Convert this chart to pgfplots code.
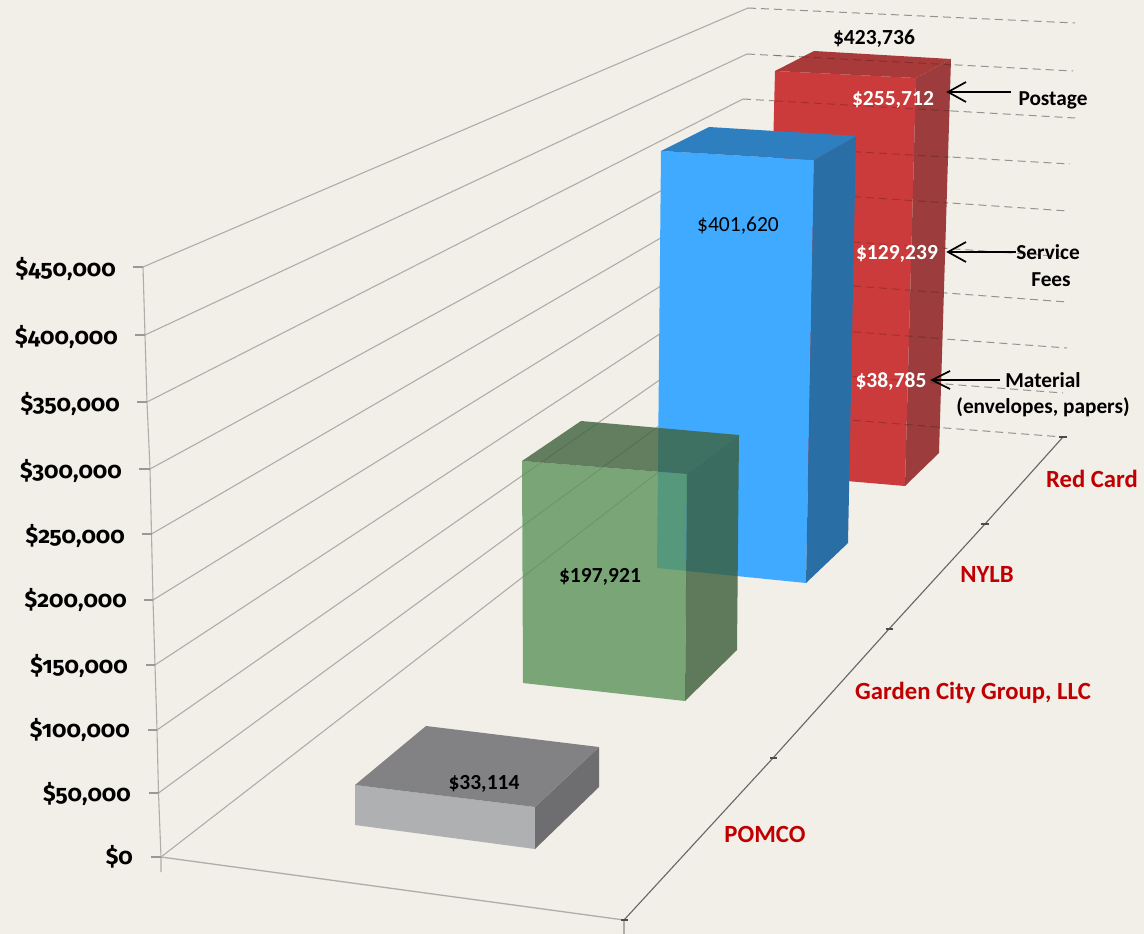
\documentclass[border=0pt]{standalone}
\usepackage{fontspec}
\setmainfont{Carlito}
\newfontfamily\tickfont[Numbers=OldStyle]{Fira Sans}
\usepackage{pgfplots}
\pgfplotsset{compat=1.18}
\definecolor{bg}{HTML}{F2EEE8}
\definecolor{gridc}{HTML}{B0ADA8}
\definecolor{tickc}{HTML}{9A9896}
\definecolor{redf}{HTML}{CC3B3B}
\definecolor{reds}{HTML}{9C3C3C}
\definecolor{redt}{HTML}{A83A3A}
\definecolor{bluef}{HTML}{3FAAFF}
\definecolor{blues}{HTML}{2A6EA6}
\definecolor{bluet}{HTML}{2E7FC0}
\definecolor{greenf}{HTML}{5C945B}
\definecolor{greens}{HTML}{395D38}
\definecolor{greent}{HTML}{3F633D}
\definecolor{grayf}{HTML}{AEB0B2}
\definecolor{grays}{HTML}{6E6E70}
\definecolor{grayt}{HTML}{828284}
\definecolor{catred}{HTML}{C00000}
\pgfplotsset{
  face/.style={fill=#1, draw=none, no markers},
  grid solid/.style={gridc, line width=1.1pt, no markers},
  grid dash/.style={gridc!85!black, line width=1pt, dash pattern=on 8pt off 5pt, no markers},
  on red/.style={black, opacity=0.2, line width=1pt, dash pattern=on 8pt off 5pt, no markers},
  ytk/.style={tickc, line width=1.8pt, no markers},
  rtk/.style={black!70, line width=1.4pt, no markers},
  arrow/.style={black, line width=1.7pt, no markers},
}
\tikzset{
  val/.style={font=\fontsize{21.5}{24}\selectfont\bfseries, anchor=base, inner sep=0pt},
  note/.style={font=\fontsize{21.3}{24}\selectfont\bfseries, anchor=base, inner sep=0pt},
  cat/.style={font=\fontsize{24.7}{28}\selectfont\bfseries, text=catred, anchor=base, inner sep=0pt},
  ylab/.style={font=\tickfont\fontsize{23}{26}\selectfont\bfseries, anchor=base east, inner sep=0pt},
}
\begin{document}
\begin{tikzpicture}
\begin{axis}[
  width=1144pt, height=934pt, scale only axis,
  xmin=0, xmax=1144, ymin=0, ymax=934, y dir=reverse,
  axis lines=none, clip=true,
]
\addplot[face=bg] coordinates {(0,0) (1144,0) (1144,934) (0,934)};

% side wall gridlines, $450,000 down to $0
\addplot[grid solid] coordinates {(143,267) (748,8)};
\addplot[grid solid] coordinates {(145,335) (747,54)};
\addplot[grid solid] coordinates {(147,402) (743,99)};
\addplot[grid solid] coordinates {(150,469) (745,145)};
\addplot[grid solid] coordinates {(151.5,534) (745,189)};
\addplot[grid solid] coordinates {(153,600) (745,234)};
\addplot[grid solid] coordinates {(155,665) (745,278)};
\addplot[grid solid] coordinates {(157,730) (740,324)};
\addplot[grid solid] coordinates {(158.5,793) (738,368)};
\addplot[grid solid] coordinates {(161,857) (736,412)};
% back wall
\addplot[grid dash] coordinates {(748,8) (1075,23)};
\addplot[grid dash] coordinates {(747,54) (1073,71)};
\addplot[grid dash] coordinates {(743,99) (1075,118)};
\addplot[grid dash] coordinates {(745,145) (1070,164)};
\addplot[grid dash] coordinates {(745,189) (1068,211)};
\addplot[grid dash] coordinates {(745,234) (1068,257)};
\addplot[grid dash] coordinates {(745,278) (1067,302)};
\addplot[grid dash] coordinates {(740,324) (1067,348)};
\addplot[grid dash] coordinates {(738,368) (1063,393)};
\addplot[grid dash] coordinates {(736,412) (1063,437)};

% value axis and floor
\addplot[grid solid] coordinates {(143,267) (145,335) (147,402) (150,469) (151.5,534) (153,600) (155,665) (157,730) (158.5,793) (161,857) (161,872)};
\addplot[grid solid, line width=1.3pt] coordinates {(161,857) (624,920)};
\addplot[grid solid, line width=1.3pt] coordinates {(624,920) (624,934)};
\addplot[black!60, line width=1.1pt, no markers] coordinates {(624,920) (773,758) (889,629) (985,524) (1063,437)};
\addplot[ytk] coordinates {(133,267) (143,267)};
\addplot[ytk] coordinates {(135,335) (145,335)};
\addplot[ytk] coordinates {(137,402) (147,402)};
\addplot[ytk] coordinates {(139,469) (150,469)};
\addplot[ytk] coordinates {(142,534) (151.5,534)};
\addplot[ytk] coordinates {(144,600) (153,600)};
\addplot[ytk] coordinates {(146,665) (155,665)};
\addplot[ytk] coordinates {(148,730) (157,730)};
\addplot[ytk] coordinates {(149,793) (158.5,793)};
\addplot[ytk] coordinates {(151,857) (161,857)};
\addplot[rtk] coordinates {(621,920) (628,920)};
\addplot[rtk] coordinates {(770,758) (777,758)};
\addplot[rtk] coordinates {(886,629) (893,629)};
\addplot[rtk] coordinates {(981,524) (989,524)};
\addplot[rtk] coordinates {(1059,437) (1067,437)};

% Red Card, $423,736
\addplot[face=redf] coordinates {(775,71) (916,78) (905,486) (765,474)};
\addplot[face=reds] coordinates {(916,78) (951,59) (939,453) (905,486)};
\addplot[face=redt] coordinates {(775,71) (814,51) (951,59) (916,78)};
\addplot[on red] coordinates {(775,55.5) (951,64.7)};
\addplot[on red] coordinates {(775,100.9) (951,110.9)};
\addplot[on red] coordinates {(775,147.2) (950,157.2)};
\addplot[on red] coordinates {(775,191.4) (948,203)};
\addplot[on red] coordinates {(775,236.5) (946,248.5)};
\addplot[on red] coordinates {(775,280) (944,292.8)};
\addplot[on red] coordinates {(775,326) (942,338.6)};
\addplot[on red] coordinates {(775,370.5) (941,383.5)};
\addplot[on red] coordinates {(775,414) (940,427.2)};

% NYLB, $401,620
\addplot[face=bluef] coordinates {(661,151) (814,160) (806,583) (657,568)};
\addplot[face=blues] coordinates {(814,160) (856,136) (848,543) (806,583)};
\addplot[face=bluet] coordinates {(661,151) (709,127) (856,136) (814,160)};

% Garden City Group, $197,921
\addplot[face=greenf, fill opacity=0.8] coordinates {(522,461) (687,474) (685,701) (523,683)};
\addplot[face=greens, fill opacity=0.8] coordinates {(687,474) (739,435) (737,650) (685,701)};
\addplot[face=greent, fill opacity=0.8] coordinates {(522,461) (581,421) (739,435) (687,474)};

% POMCO, $33,114
\addplot[face=grayf] coordinates {(355,785) (535,807) (535,849) (355,825)};
\addplot[face=grays] coordinates {(535,807) (599,747) (599,787) (535,849)};
\addplot[face=grayt] coordinates {(355,785) (426,726) (599,747) (535,807)};

% callout arrows
\addplot[arrow] coordinates {(1011,92) (948,92)};
\addplot[arrow] coordinates {(966,82) (948,92) (966,102)};
\addplot[arrow] coordinates {(1016,252) (948,252)};
\addplot[arrow] coordinates {(966,242) (948,252) (966,262)};
\addplot[arrow] coordinates {(1000,380) (932,380)};
\addplot[arrow] coordinates {(950,371) (932,380) (950,389)};

% value axis labels
\node[ylab] at (axis cs:116,276) {\$450,000};
\node[ylab] at (axis cs:118,344) {\$400,000};
\node[ylab] at (axis cs:120,411) {\$350,000};
\node[ylab] at (axis cs:122,478) {\$300,000};
\node[ylab] at (axis cs:125,543) {\$250,000};
\node[ylab] at (axis cs:127,607) {\$200,000};
\node[ylab] at (axis cs:128,673) {\$150,000};
\node[ylab] at (axis cs:130,737) {\$100,000};
\node[ylab] at (axis cs:131,801) {\$50,000};
\node[ylab] at (axis cs:133,864) {\$0};

% category labels
\node[cat] at (axis cs:1092,487) {Red Card};
\node[cat] at (axis cs:987,582) {NYLB};
\node[cat] at (axis cs:973,699) {Garden City Group, LLC};
\node[cat] at (axis cs:765,842) {POMCO};

% value labels
\node[val] at (axis cs:874,45) {\$423,736};
\node[val, text=white] at (axis cs:893,106) {\$255,712};
\node[val, text=white] at (axis cs:897,259) {\$129,239};
\node[val, text=white] at (axis cs:891,387) {\$38,785};
\node[val, font=\fontsize{21.5}{24}\selectfont] at (axis cs:738,231) {\$401,620};
\node[val] at (axis cs:600,582) {\$197,921};
\node[val] at (axis cs:484,789) {\$33,114};

% callout text
\node[note] at (axis cs:1053,106) {Postage};
\node[note] at (axis cs:1048,259) {Service};
\node[note] at (axis cs:1051,286) {Fees};
\node[note] at (axis cs:1043,387) {Material};
\node[note] at (axis cs:1043,413) {(envelopes, papers)};
\end{axis}
\end{tikzpicture}
\end{document}
